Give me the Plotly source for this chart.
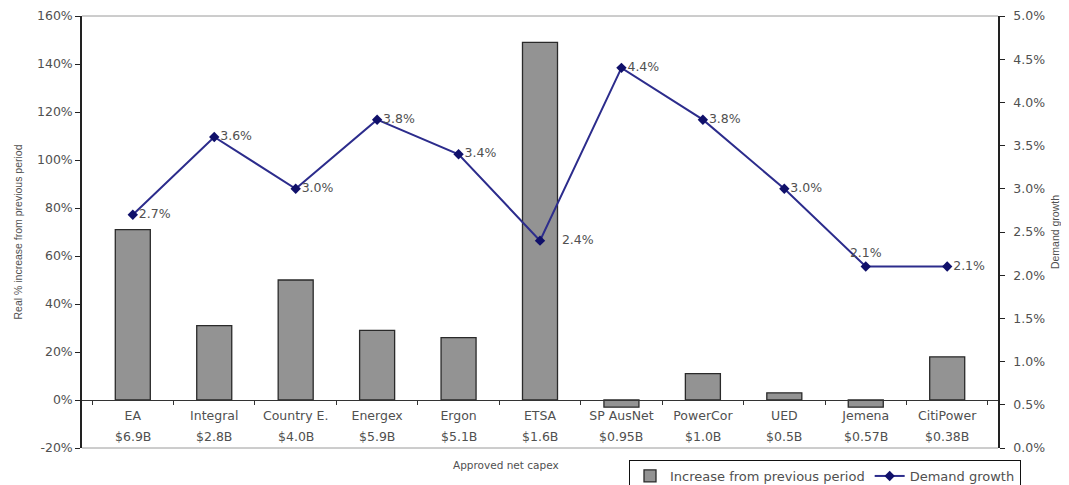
import plotly.graph_objects as go

# ---- data ----
companies = ["EA", "Integral", "Country E.", "Energex", "Ergon", "ETSA",
             "SP AusNet", "PowerCor", "UED", "Jemena", "CitiPower"]
capex = ["$6.9B", "$2.8B", "$4.0B", "$5.9B", "$5.1B", "$1.6B",
         "$0.95B", "$1.0B", "$0.5B", "$0.57B", "$0.38B"]
increase_pct = [71, 31, 50, 29, 26, 149, -3, 11, 3, -3, 18]
demand_growth = [2.7, 3.6, 3.0, 3.8, 3.4, 2.4, 4.4, 3.8, 3.0, 2.1, 2.1]
left_ticks = [-20, 0, 20, 40, 60, 80, 100, 120, 140, 160]
left_ticktext = ["-20%", "0%", "20%", "40%", "60%", "80%", "100%", "120%", "140%", "160%"]

WIDE = "DejaVu Sans, Verdana, sans-serif"
NARROW = "Liberation Sans, Arial, sans-serif"
TXT = "#505050"

labels = [f"{v:.1f}%" for v in demand_growth]
positions = ["middle right"] * len(labels)
positions[companies.index("Jemena")] = "top center"
labels[companies.index("ETSA")] = "    " + labels[companies.index("ETSA")]

fig = go.Figure()
fig.add_trace(go.Bar(
    x=companies, y=increase_pct, name="Increase from previous period",
    marker=dict(color="#939393", line=dict(color="#2a2a2a", width=1.3)),
    width=0.43, yaxis="y",
))
fig.add_trace(go.Scatter(
    x=companies, y=demand_growth, name="Demand growth", yaxis="y2",
    mode="lines+markers+text",
    line=dict(color="#2c2c8c", width=2),
    marker=dict(symbol="diamond", size=8, color="#10106a"),
    text=labels, textposition=positions,
    textfont=dict(family=WIDE, size=12.5, color=TXT),
    cliponaxis=False,
))

# plot area spans 916 x 432 px (x 82..998, y 16..448); fractions below refer to it
PW, PH = 916, 432
annotations = []
for c, v in zip(companies, capex):
    annotations.append(dict(x=c, xref="x", y=(448 - 436) / PH, yref="paper",
                            text=v, showarrow=False, yanchor="middle",
                            font=dict(family=WIDE, size=12.5, color=TXT)))
annotations.append(dict(x=(506 - 82) / PW, xref="paper", y=(448 - 465) / PH,
                        yref="paper", text="Approved net capex", showarrow=False,
                        yanchor="middle", font=dict(family=WIDE, size=10.5, color=TXT)))

# page body adds an 8px offset, so the figure is 8px smaller than the window
fig.update_layout(
    template="none",
    width=1061, height=477,
    margin=dict(l=74, r=71, t=8, b=37, autoexpand=False),
    paper_bgcolor="white", plot_bgcolor="white",
    font=dict(family=WIDE, size=12.5, color=TXT),
    showlegend=True,
    legend=dict(orientation="h", x=(629 - 82) / PW, y=(448 - 460) / PH,
                xanchor="left", yanchor="top", bordercolor="#111", borderwidth=1,
                font=dict(family=WIDE, size=13, color=TXT),
                itemwidth=30, tracegroupgap=0, bgcolor="white"),
    xaxis=dict(type="category", anchor="free", position=20 / 180,
               showline=True, linecolor="#333", linewidth=1.2,
               ticks="outside", ticklen=4, tickcolor="#333", tickson="boundaries",
               ticklabelstandoff=4,
               showgrid=False, zeroline=False, automargin=False,
               tickfont=dict(family=WIDE, size=12.5, color=TXT)),
    yaxis=dict(range=[-20, 160], tickvals=left_ticks, ticktext=left_ticktext,
               showgrid=False, automargin=False,
               zeroline=False, showline=True, linecolor="#222", linewidth=1.5,
               ticks="outside", ticklen=5, tickcolor="#222",
               tickfont=dict(family=WIDE, size=12.5, color=TXT),
               title=dict(text="Real % increase from previous period",
                          font=dict(family=NARROW, size=10.5, color=TXT), standoff=12)),
    yaxis2=dict(range=[0, 5.0], dtick=0.5, tickformat=".1f", ticksuffix="%",
                overlaying="y", side="right", showgrid=False, zeroline=False,
                automargin=False,
                showline=True, linecolor="#222", linewidth=1.5,
                ticks="outside", ticklen=5, tickcolor="#222",
                ticklabelstandoff=6,
                tickfont=dict(family=WIDE, size=12.5, color=TXT),
                title=dict(text="Demand growth",
                           font=dict(family=NARROW, size=10.5, color=TXT), standoff=8)),
    annotations=annotations,
    shapes=[
        dict(type="line", xref="paper", yref="paper", x0=0, x1=1, y0=1, y1=1,
             line=dict(color="#9a9a9a", width=1)),
        dict(type="line", xref="paper", yref="paper", x0=0, x1=1, y0=0, y1=0,
             line=dict(color="#9a9a9a", width=1)),
    ],
)

fig.write_html("out.html")
